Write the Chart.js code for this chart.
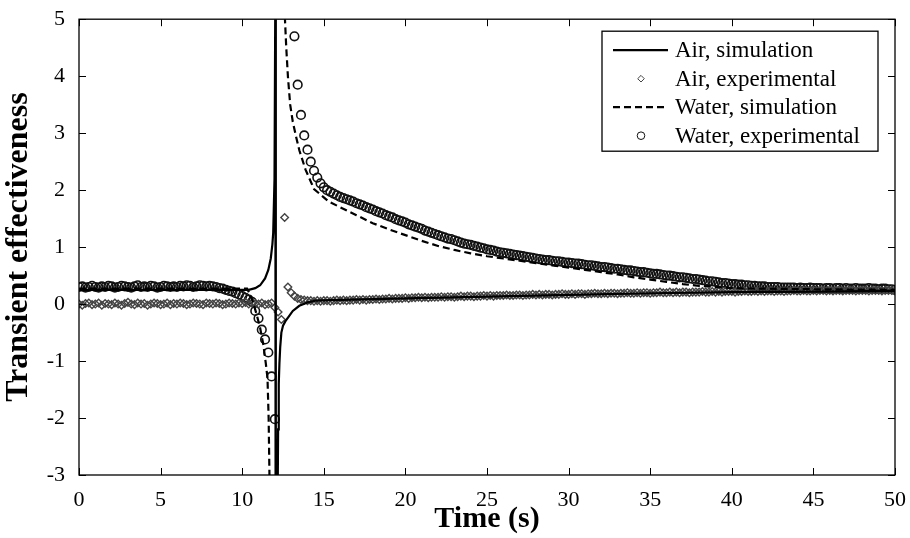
<!DOCTYPE html>
<html>
<head>
<meta charset="utf-8">
<title>Transient effectiveness</title>
<script src="https://cdn.jsdelivr.net/npm/chart.js@4.4.1/dist/chart.umd.min.js"></script>
<style>
  html, body { margin: 0; padding: 0; background: #fff; }
  #wrap { width: 910px; height: 538px; }
</style>
</head>
<body>
<div id="wrap"><canvas id="effChart" width="910" height="538"></canvas></div>
<script>
// ---- data -------------------------------------------------------------

// x axis (s) and y axis ticks
const xTicks = [0, 5, 10, 15, 20, 25, 30, 35, 40, 45, 50];
const yTicks = [-3, -2, -1, 0, 1, 2, 3, 4, 5];

// Air, simulation (solid line) - pole near t = 12.06 s
const airSimTime = [0, 10.4, 10.8, 11.1, 11.4, 11.6, 11.75, 11.85, 11.9, 11.98, 12.03, 12.05,
  12.07, 12.16, 12.2, 12.24, 12.28, 12.33, 12.4, 12.5, 12.65, 12.85, 13.1, 13.5, 14.0, 14.5, 15.5,
  20, 25, 30, 35, 40, 45, 50];
const airSimValue = [0.25, 0.25, 0.28, 0.33, 0.45, 0.6, 0.8, 1.05, 1.25, 2.2, 5.5, 12,
  -12, -4.0, -2.2, -1.4, -1.05, -0.75, -0.5, -0.38, -0.3, -0.22, -0.12, -0.03, 0.03, 0.06, 0.07,
  0.1, 0.13, 0.16, 0.19, 0.21, 0.22, 0.23];

// Water, simulation (dashed line) - goes to -inf then comes back from +inf
const waterSimTime = [0, 10.3, 10.5, 10.7, 10.9, 11.1, 11.3, 11.45, 11.55, 11.62, 11.67, 11.75,
  12.1,
  12.45, 12.55, 12.62, 12.7, 12.8, 12.94, 13.1, 13.3, 13.5, 13.88, 14.4, 15.3, 16, 17, 18, 19,
  20, 21, 22, 23, 24, 25, 26, 27, 28, 29, 30, 31, 32, 33, 34, 35, 36, 37, 38, 39, 40, 42, 45, 50];
const waterSimValue = [0.27, 0.27, 0.16, 0.0, -0.2, -0.42, -0.72, -1.05, -1.3, -2.0, -3.0, -12,
  null,
  12, 6.0, 5.0, 4.5, 4.0, 3.5, 3.2, 2.94, 2.7, 2.36, 2.02, 1.8, 1.7, 1.56, 1.42, 1.31,
  1.21, 1.11, 1.02, 0.95, 0.89, 0.84, 0.8, 0.76, 0.72, 0.68, 0.64, 0.6, 0.56, 0.52, 0.47,
  0.43, 0.39, 0.35, 0.32, 0.3, 0.28, 0.27, 0.26, 0.25];

// experimental series, sampled every 0.2 s from 0 to 50 s
const SAMPLE_STEP = 0.2;

// Air, experimental (diamonds)
const airExpValue = [
  0.00, -0.02, 0.01, 0.02, -0.01, 0.00, 0.02, -0.02, 0.01, 0.00,
  -0.01, 0.02, 0.00, -0.02, 0.01, 0.03, 0.00, -0.01, 0.02, 0.00,
  0.01, -0.02, 0.00, 0.02, 0.01, -0.01, 0.00, 0.02, -0.01, 0.01,
  0.00, 0.02, 0.01, -0.01, 0.00, 0.02, 0.01, 0.00, -0.01, 0.02,
  0.01, 0.00, 0.02, 0.01, -0.01, 0.00, 0.02, 0.01, 0.00, 0.02,
  0.01, 0.03, 0.00, 0.02, 0.01, 0.00, 0.02, -0.01, 0.00, 0.02,
  -0.06, -0.14, -0.27, 1.52, 0.30, 0.20, 0.14, 0.10, 0.08, 0.07,
  0.06, 0.06, 0.05, 0.06, 0.05, 0.06, 0.06, 0.05, 0.06, 0.07,
  0.06, 0.07, 0.06, 0.07, 0.07, 0.08, 0.07, 0.08, 0.07, 0.08,
  0.08, 0.09, 0.08, 0.09, 0.09, 0.10, 0.09, 0.10, 0.10, 0.10,
  0.11, 0.10, 0.11, 0.11, 0.12, 0.11, 0.12, 0.11, 0.12, 0.12,
  0.12, 0.13, 0.12, 0.13, 0.13, 0.12, 0.13, 0.14, 0.13, 0.14,
  0.14, 0.13, 0.14, 0.14, 0.15, 0.14, 0.15, 0.14, 0.15, 0.15,
  0.15, 0.16, 0.15, 0.15, 0.16, 0.16, 0.15, 0.16, 0.16, 0.17,
  0.16, 0.17, 0.16, 0.17, 0.17, 0.16, 0.17, 0.17, 0.18, 0.17,
  0.17, 0.18, 0.17, 0.18, 0.18, 0.17, 0.18, 0.18, 0.19, 0.18,
  0.18, 0.19, 0.18, 0.19, 0.19, 0.18, 0.19, 0.19, 0.20, 0.19,
  0.19, 0.20, 0.19, 0.20, 0.20, 0.19, 0.20, 0.20, 0.21, 0.20,
  0.20, 0.21, 0.20, 0.21, 0.20, 0.21, 0.21, 0.20, 0.21, 0.21,
  0.21, 0.22, 0.21, 0.21, 0.22, 0.21, 0.22, 0.21, 0.22, 0.22,
  0.22, 0.21, 0.22, 0.22, 0.23, 0.22, 0.22, 0.23, 0.22, 0.23,
  0.22, 0.23, 0.23, 0.22, 0.23, 0.23, 0.22, 0.23, 0.23, 0.24,
  0.23, 0.23, 0.24, 0.23, 0.23, 0.24, 0.23, 0.24, 0.24, 0.23,
  0.24, 0.23, 0.24, 0.24, 0.23, 0.24, 0.24, 0.24, 0.23, 0.24,
  0.24, 0.24, 0.23, 0.24, 0.24, 0.24, 0.23, 0.24, 0.24, 0.24,
  0.23
];

// Water, experimental (circles); null = off the plotted range
const waterExpValue = [
  0.30, 0.31, 0.29, 0.30, 0.32, 0.30, 0.29, 0.31, 0.30, 0.32,
  0.31, 0.29, 0.30, 0.32, 0.31, 0.30, 0.29, 0.31, 0.33, 0.30,
  0.31, 0.30, 0.32, 0.31, 0.29, 0.30, 0.32, 0.31, 0.30, 0.31,
  0.30, 0.32, 0.31, 0.33, 0.32, 0.30, 0.31, 0.33, 0.32, 0.31,
  0.32, 0.31, 0.30, 0.28, 0.27, 0.25, 0.23, 0.22, 0.19, 0.17,
  0.14, 0.11, 0.08, 0.04, -0.12, -0.25, -0.45, -0.62, -0.85, -1.27,
  -2.02, null, null, null, null, null, 4.70, 3.85, 3.32, 2.96,
  2.71, 2.50, 2.34, 2.22, 2.12, 2.05, 2.00, 1.97, 1.94, 1.91,
  1.88, 1.86, 1.84, 1.82, 1.80, 1.77, 1.75, 1.73, 1.70, 1.68,
  1.66, 1.63, 1.61, 1.59, 1.56, 1.54, 1.52, 1.49, 1.47, 1.45,
  1.43, 1.40, 1.38, 1.36, 1.34, 1.32, 1.29, 1.27, 1.25, 1.23,
  1.21, 1.19, 1.17, 1.15, 1.14, 1.12, 1.10, 1.08, 1.06, 1.05,
  1.04, 1.02, 1.01, 0.99, 0.98, 0.96, 0.95, 0.94, 0.92, 0.91,
  0.90, 0.89, 0.88, 0.87, 0.86, 0.85, 0.84, 0.83, 0.82, 0.81,
  0.80, 0.79, 0.78, 0.77, 0.77, 0.76, 0.75, 0.75, 0.74, 0.73,
  0.73, 0.72, 0.71, 0.71, 0.70, 0.69, 0.68, 0.68, 0.67, 0.66,
  0.65, 0.65, 0.64, 0.63, 0.62, 0.62, 0.61, 0.60, 0.59, 0.59,
  0.58, 0.57, 0.56, 0.56, 0.55, 0.54, 0.53, 0.53, 0.52, 0.51,
  0.50, 0.50, 0.49, 0.48, 0.47, 0.47, 0.46, 0.45, 0.44, 0.44,
  0.43, 0.42, 0.41, 0.40, 0.40, 0.39, 0.38, 0.37, 0.37, 0.36,
  0.35, 0.35, 0.34, 0.34, 0.33, 0.33, 0.32, 0.32, 0.31, 0.31,
  0.31, 0.30, 0.30, 0.30, 0.30, 0.29, 0.29, 0.29, 0.29, 0.29,
  0.28, 0.29, 0.28, 0.28, 0.29, 0.28, 0.28, 0.28, 0.27, 0.28,
  0.28, 0.27, 0.28, 0.28, 0.27, 0.28, 0.27, 0.27, 0.28, 0.27,
  0.27, 0.27, 0.28, 0.27, 0.27, 0.26, 0.27, 0.27, 0.26, 0.26,
  0.25
];

const expTime = airExpValue.map((_, i) => +(i * SAMPLE_STEP).toFixed(1));

// ---- helpers ----------------------------------------------------------

const SERIF = "'Liberation Serif', 'Times New Roman', serif";
const TICK_LEN = 7;

function toPoints(xs, ys) {
  return xs.map((x, i) => ({ x: x, y: ys[i] }));
}

// Box around the plot with inward ticks on all four sides
const framePlugin = {
  id: 'frame',
  afterDatasetsDraw(chart) {
    const { ctx, chartArea: a, scales: { x, y } } = chart;
    ctx.save();
    ctx.strokeStyle = '#000';
    ctx.lineWidth = 1.3;
    ctx.strokeRect(a.left, a.top, a.right - a.left, a.bottom - a.top);
    ctx.beginPath();
    xTicks.forEach(v => {
      const px = Math.round(x.getPixelForValue(v)) + 0.5;
      ctx.moveTo(px, a.bottom); ctx.lineTo(px, a.bottom - TICK_LEN);
      ctx.moveTo(px, a.top); ctx.lineTo(px, a.top + TICK_LEN);
    });
    yTicks.forEach(v => {
      const py = Math.round(y.getPixelForValue(v)) + 0.5;
      ctx.moveTo(a.left, py); ctx.lineTo(a.left + TICK_LEN, py);
      ctx.moveTo(a.right, py); ctx.lineTo(a.right - TICK_LEN, py);
    });
    ctx.lineWidth = 1;
    ctx.stroke();
    ctx.restore();
  }
};

// Boxed legend in the upper right corner, styled from the datasets
const legendBoxPlugin = {
  id: 'legendBox',
  afterDraw(chart) {
    const { ctx, chartArea: a } = chart;
    const w = 276, h = 120, rowH = 28.5;
    const left = a.right - 17 - w, top = a.top + 12;
    ctx.save();
    ctx.fillStyle = '#fff';
    ctx.fillRect(left, top, w, h);
    ctx.strokeStyle = '#000';
    ctx.lineWidth = 1.3;
    ctx.strokeRect(left, top, w, h);
    ctx.font = '23px ' + SERIF;
    ctx.textBaseline = 'middle';
    chart.data.datasets.forEach((ds, i) => {
      const cy = top + 19 + i * rowH;
      if (ds.showLine) {
        ctx.beginPath();
        ctx.setLineDash(ds.borderDash || []);
        ctx.strokeStyle = ds.borderColor;
        ctx.lineWidth = ds.borderWidth;
        ctx.moveTo(left + 11, cy);
        ctx.lineTo(left + 66, cy);
        ctx.stroke();
        ctx.setLineDash([]);
      } else {
        ctx.strokeStyle = ds.pointBorderColor;
        ctx.fillStyle = 'rgba(0,0,0,0)';
        ctx.lineWidth = 1;
        Chart.helpers.drawPoint(ctx, {
          pointStyle: ds.pointStyle,
          radius: ds.pointRadius - 0.5,
          rotation: 0,
          borderWidth: 1
        }, left + 39, cy);
      }
      ctx.fillStyle = '#000';
      ctx.fillText(ds.label, left + 73, cy + 1);
    });
    ctx.restore();
  }
};

// ---- chart ------------------------------------------------------------

new Chart(document.getElementById('effChart'), {
  type: 'line',
  data: {
    datasets: [
      {
        label: 'Air, simulation',
        data: toPoints(airSimTime, airSimValue),
        showLine: true,
        borderColor: '#000',
        borderWidth: 2.2,
        pointRadius: 0,
        tension: 0,
        order: 0
      },
      {
        label: 'Air, experimental',
        data: toPoints(expTime, airExpValue),
        showLine: false,
        pointStyle: 'rectRot',
        pointRadius: 3.8,
        pointBorderColor: '#444',
        pointBorderWidth: 1.4,
        pointBackgroundColor: 'rgba(0,0,0,0)',
        order: 2
      },
      {
        label: 'Water, simulation',
        data: toPoints(waterSimTime, waterSimValue),
        showLine: true,
        borderColor: '#000',
        borderWidth: 2.2,
        borderDash: [7, 4],
        pointRadius: 0,
        spanGaps: false,
        tension: 0,
        order: 1
      },
      {
        label: 'Water, experimental',
        data: toPoints(expTime, waterExpValue),
        showLine: false,
        pointStyle: 'circle',
        pointRadius: 4.3,
        pointBorderColor: '#111',
        pointBorderWidth: 1.6,
        pointBackgroundColor: 'rgba(0,0,0,0)',
        order: 3
      }
    ]
  },
  options: {
    responsive: false,
    animation: false,
    devicePixelRatio: 1,
    events: [],
    layout: { padding: { top: 17, right: 13, left: 0, bottom: 0 } },
    plugins: {
      legend: { display: false },
      tooltip: { enabled: false }
    },
    scales: {
      x: {
        type: 'linear',
        min: 0,
        max: 50,
        afterBuildTicks: scale => { scale.ticks = xTicks.map(v => ({ value: v })); },
        afterFit: scale => { scale.height = 63; },
        grid: { display: false },
        border: { display: false },
        ticks: {
          color: '#000',
          padding: 4,
          maxRotation: 0,
          font: { family: SERIF, size: 22 }
        },
        title: {
          display: true,
          text: 'Time (s)',
          color: '#000',
          padding: { top: 0, bottom: 1 },
          font: { family: SERIF, size: 30, weight: 'bold' }
        }
      },
      y: {
        min: -3,
        max: 5,
        afterBuildTicks: scale => { scale.ticks = yTicks.map(v => ({ value: v })); },
        afterFit: scale => { scale.width = 79; },
        grid: { display: false },
        border: { display: false },
        ticks: {
          color: '#000',
          padding: 6,
          font: { family: SERIF, size: 22 }
        },
        title: {
          display: true,
          text: 'Transient effectiveness',
          color: '#000',
          padding: { top: 0, bottom: 0 },
          font: { family: SERIF, size: 32, weight: 'bold' }
        }
      }
    }
  },
  plugins: [framePlugin, legendBoxPlugin]
});
</script>
</body>
</html>
